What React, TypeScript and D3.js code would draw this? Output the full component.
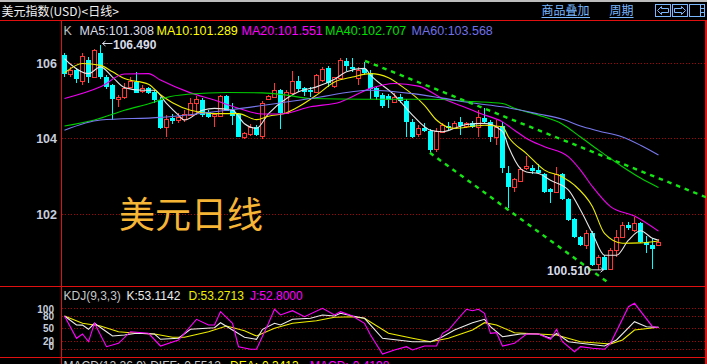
import React from "react";
import * as d3 from "d3";

// ---- daily candles (index 0..99) ----
const opens = [106.23,105.71,105.83,105.54,106.09,105.63,106.29,105.63,105.43,105.06,105.10,105.38,105.52,105.28,105.34,105.25,105.03,104.31,104.55,104.50,104.52,104.63,104.94,105.03,104.72,104.61,104.61,105.14,104.77,104.66,104.06,104.13,104.31,104.08,105.07,105.12,105.30,104.69,105.22,105.54,105.35,105.30,105.25,105.56,105.89,105.40,105.62,106.07,105.92,105.62,105.85,105.74,105.34,105.16,105.14,104.99,105.12,105.00,104.46,104.12,104.28,104.22,103.72,104.19,104.35,104.28,104.46,104.34,104.41,104.31,104.55,104.46,104.06,104.35,103.10,102.73,102.89,103.22,103.23,103.17,103.07,102.66,102.60,103.07,102.40,101.86,101.40,101.18,101.51,100.68,100.87,100.54,101.05,101.39,101.71,101.58,101.77,101.27,101.18,101.18];
const highs = [106.28,105.91,105.88,106.27,106.17,106.38,106.49,105.69,105.46,105.16,105.47,105.65,105.77,105.43,105.38,105.30,105.12,104.63,104.66,104.68,104.77,105.08,105.14,105.08,104.77,104.69,105.16,105.16,104.96,104.69,104.19,104.39,104.37,105.00,105.16,105.47,105.32,105.30,105.81,105.67,105.38,105.38,105.71,105.92,105.93,105.65,106.15,106.14,106.15,105.92,106.05,105.83,105.38,105.22,105.19,105.21,105.18,105.06,104.53,104.37,104.41,104.26,104.29,104.42,104.46,104.47,104.59,104.46,104.47,104.77,104.81,104.50,104.50,104.45,103.28,102.95,103.26,103.54,103.31,103.33,103.10,102.69,103.25,103.09,102.43,101.90,101.43,101.58,101.56,100.92,100.92,101.10,101.58,101.80,101.80,101.93,101.80,101.42,101.36,101.33];
const lows = [105.64,105.65,105.47,105.42,105.48,105.62,105.59,105.32,104.50,104.85,105.05,105.34,105.21,105.22,105.19,104.96,104.25,104.06,104.39,104.43,104.46,104.61,104.63,104.58,104.55,104.32,104.58,104.73,104.37,104.05,103.99,104.08,104.08,103.99,105.06,105.11,104.25,104.68,105.21,105.24,105.15,105.12,105.24,105.51,105.38,105.36,105.61,105.80,105.78,105.43,105.69,105.06,105.03,104.81,104.82,104.94,104.94,104.06,104.03,104.05,104.19,103.65,103.65,104.15,104.24,104.26,104.10,104.29,104.28,104.06,104.41,103.92,103.84,103.10,102.16,102.60,102.86,103.17,103.07,103.09,102.55,102.29,102.55,102.38,101.82,101.37,101.16,101.07,100.63,100.52,100.51,100.52,100.87,101.36,101.58,101.54,101.23,100.96,100.54,101.16];
const closes = [105.72,105.83,105.58,106.21,105.63,106.36,105.63,105.38,105.06,105.10,105.34,105.54,105.22,105.34,105.21,105.03,104.28,104.53,104.48,104.59,104.66,104.96,105.05,104.63,104.58,104.66,105.14,104.75,104.61,104.06,104.15,104.31,104.10,104.94,105.14,105.30,104.68,105.25,105.54,105.33,105.24,105.25,105.69,105.85,105.47,105.64,106.09,105.93,105.85,105.83,105.74,105.32,105.12,104.86,105.02,105.12,105.01,104.46,104.06,104.29,104.22,103.70,104.22,104.37,104.30,104.43,104.34,104.41,104.32,104.57,104.46,104.06,104.31,103.22,102.73,102.93,103.19,103.28,103.15,103.10,102.60,102.60,103.07,102.40,101.85,101.40,101.18,101.49,100.65,100.86,100.52,101.05,101.39,101.71,101.63,101.77,101.27,101.18,101.07,101.27];

// ---- moving averages: [candle index, value] ----
const ma5 = [[0,106.13],[1,105.98],[4,105.73],[6,105.91],[8,105.64],[10,105.36],[13,105.29],[15,105.29],[17,104.94],[19,104.63],[20,104.50],[23,104.76],[25,104.81],[28,104.76],[30,104.40],[32,104.28],[34,104.67],[37,105.07],[39,105.25],[42,105.38],[45,105.58],[47,105.78],[50,105.87],[51,105.69],[55,105.16],[58,104.63],[61,104.23],[63,104.19],[65,104.28],[67,104.38],[70,104.41],[73,104.20],[74,103.79],[76,103.21],[77,103.12],[79,103.08],[81,102.90],[84,102.64],[86,102.11],[88,101.49],[90,100.91],[92,100.91],[94,101.31],[96,101.56],[98,101.36],[99,101.31]];
const ma10 = [[0,105.75],[3,106.0],[6,105.95],[8,105.78],[10,105.60],[14,105.45],[16,105.17],[18,104.96],[21,104.76],[25,104.67],[29,104.67],[32,104.51],[34,104.60],[37,104.69],[39,104.85],[42,105.16],[45,105.51],[48,105.64],[51,105.73],[54,105.62],[56,105.42],[60,104.89],[62,104.50],[65,104.28],[70,104.36],[73,104.32],[74,104.05],[77,103.61],[80,103.17],[83,102.99],[85,102.77],[88,102.20],[90,101.49],[93,101.23],[96,101.24],[99,101.29]];
const ma20 = [[0,105.07],[6,105.38],[10,105.72],[14,105.73],[16,105.56],[21,105.22],[25,105.03],[29,104.81],[33,104.66],[36,104.66],[41,104.85],[46,104.98],[51,105.34],[55,105.47],[59,105.40],[63,105.07],[68,104.76],[69,104.69],[73,104.45],[75,104.23],[77,104.01],[80,103.79],[84,103.52],[86,103.17],[88,102.73],[91,102.20],[95,101.95],[99,101.55]];
const ma40 = [[0,104.34],[5,104.50],[10,104.76],[15,104.98],[17,105.10],[21,105.19],[27,105.23],[33,105.22],[37,105.16],[41,105.07],[50,105.05],[61,105.05],[68,104.99],[73,104.94],[75,104.81],[79,104.63],[83,104.39],[86,104.05],[89,103.70],[93,103.26],[96,102.96],[99,102.71]];
const ma60 = [[0,104.23],[6,104.50],[16,104.57],[28,104.78],[41,105.07],[51,105.29],[58,105.20],[63,105.08],[68,104.95],[73,104.85],[79,104.66],[83,104.52],[86,104.34],[89,104.21],[93,104.05],[96,103.83],[99,103.57]];

// ---- hand-drawn trend lines: [candle index, value] ----
const trendUpper = [[50.1,106.07],[107.1,102.44]];
const trendLower = [[60.9,103.63],[90.4,100.21]];

// ---- KDJ(9,3,3) ----
const kdjK = [[0,80.6],[2,58.8],[3,58.5],[4,48.4],[5,63.0],[7,42.6],[8,32.2],[10,34.6],[12,38.7],[15,37.0],[16,24.2],[19,26.6],[21,48.4],[25,52.3],[26,64.4],[28,46.7],[30,29.1],[32,24.2],[33,48.4],[35,63.0],[36,58.8],[38,72.6],[41,75.1],[43,83.1],[45,80.6],[46,87.2],[48,80.6],[50,75.1],[53,26.6],[58,18.4],[61,18.4],[63,30.5],[65,46.7],[68,64.4],[70,72.6],[71,54.7],[73,30.5],[76,37.0],[79,37.0],[81,26.6],[82,38.7],[84,18.4],[86,14.5],[90,8.0],[92,22.5],[95,66.8],[97,54.7],[99,53.1]];
const kdjD = [[0,80.6],[3,63.0],[6,56.4],[9,42.6],[12,38.7],[15,37.0],[18,29.1],[20,29.1],[24,42.6],[27,56.4],[30,45.0],[32,32.2],[35,50.8],[38,63.0],[42,69.2],[45,77.5],[48,78.9],[50,75.1],[54,38.7],[58,26.6],[61,18.4],[64,26.6],[68,46.7],[70,64.4],[72,58.8],[75,40.2],[79,37.0],[82,34.6],[86,18.4],[91,12.8],[93,22.5],[95,46.7],[99,53.3]];
const kdjJ = [[0,80.6],[2,26.6],[3,37.0],[4,18.4],[5,63.0],[7,6.3],[9,14.5],[11,42.6],[14,38.7],[16,8.0],[19,22.5],[22,72.6],[24,58.8],[25,58.8],[26,91.0],[28,63.0],[29,6.3],[31,0],[32,0],[34,63.0],[35,96.9],[36,83.1],[38,93.5],[40,78.9],[43,99.3],[45,83.1],[46,91.0],[48,80.6],[50,63.0],[51,34.6],[53,-11.4],[55,-1.7],[57,6.3],[58,-1.7],[60,8.0],[62,8.0],[63,38.7],[64,46.7],[66,80.6],[67,96.9],[68,93.5],[69,96.9],[70,87.2],[71,38.7],[72,40.2],[73,8.0],[75,14.5],[77,37.0],[79,37.0],[81,24.2],[82,48.4],[83,18.4],[85,-5.8],[86,6.3],[88,2.4],[90,0],[91,14.5],[94,103.1],[95,111.4],[98,54.7],[99,52.8]];

const priceTicks = [106, 104, 102];
const kdjTicks = [100, 80, 50, 20, 0];
const maNames = ["MA5", "MA10", "MA20", "MA40", "MA60"];
const maLast = ["101.308", "101.289", "101.551", "102.707", "103.568"];
const kdjNames = ["K", "D", "J"];
const kdjLast = ["53.1142", "53.2713", "52.8000"];
const highLabel = "106.490";
const lowLabel = "100.510";

const RED = "#ff3434";
const CYAN = "#00ffff";
const FRAME = "#e01010";
const GRID = "#b00000";
const MA_COLORS = ["#e6e6e6", "#eeee00", "#f000f0", "#00d000", "#7878ee"];
const LEG_COLORS = ["#d8dce8", "#ffff00", "#ff00ff", "#00e000", "#7070e8"];
const KDJ_COLORS = ["#ececec", "#eeee00", "#ff00ff"];
const UI_BLUE = "#7ab8ff";
const LATIN = "'Liberation Sans', Arial, sans-serif";
const CJK = "'Noto Sans CJK SC', 'Noto Sans', sans-serif";

export default function App() {
  const xs = d3.scaleLinear().domain([0, 99]).range([64.5, 658.5]);
  const ys = d3.scaleLinear().domain([102, 106]).range([214.2, 63.5]);
  const yk = d3.scaleLinear().domain([0, 100]).range([349.3, 308]);

  const maLine = d3.line<number[]>().x(d => xs(d[0])).y(d => ys(d[1])).curve(d3.curveMonotoneX);
  const trendLine = d3.line<number[]>().x(d => xs(d[0])).y(d => ys(d[1]));
  const kLine = d3.line<number[]>().x(d => xs(d[0])).y(d => yk(d[1]));

  const mas = [ma5, ma10, ma20, ma40, ma60];
  const kdjs = [kdjK, kdjD, kdjJ];

  const legendX = [79.5, 156.5, 241.5, 325, 411.5];
  const kdjX = [126.5, 188.5, 250];

  const hiIdx = highs.indexOf(d3.max(highs) as number);
  const loIdx = lows.indexOf(d3.min(lows) as number);
  const hiX = xs(hiIdx), hiY = ys(highs[hiIdx]);
  const loX = xs(loIdx), loY = ys(lows[loIdx]);

  return (
    <svg width={707} height={364} style={{ position: "fixed", left: 0, top: 0, display: "block" }}>
      <defs>
        <clipPath id="mainClip"><rect x={62} y={21} width={644} height={265} /></clipPath>
        <clipPath id="kdjClip"><rect x={62} y={287} width={644} height={70} /></clipPath>
      </defs>
      <rect x={0} y={0} width={707} height={364} fill="#000" />
      <rect x={0} y={0} width={707} height={2} fill="#bcbcbc" />

      {/* header */}
      <text x={1.5} y={15.5} fill="#f0f0f0" fontFamily={CJK} fontSize={12}>美元指数(USD)&lt;日线&gt;</text>
      <text x={541.5} y={15} fill={UI_BLUE} fontFamily={CJK} fontSize={12}>商品叠加</text>
      <line x1={541.5} x2={590} y1={17.5} y2={17.5} stroke={UI_BLUE} />
      <text x={609.5} y={15} fill={UI_BLUE} fontFamily={CJK} fontSize={12}>周期</text>
      <line x1={609.5} x2={633.5} y1={17.5} y2={17.5} stroke={UI_BLUE} />
      <g fill="none" stroke={UI_BLUE} strokeWidth={1} shapeRendering="crispEdges">
        <rect x={655.5} y={4.5} width={15} height={12} />
        <rect x={672.5} y={4.5} width={15} height={12} />
        <rect x={689.5} y={4.5} width={15} height={12} />
        <line x1={700.5} x2={700.5} y1={4.5} y2={16.5} />
        <line x1={701} x2={704} y1={8.5} y2={8.5} />
        <line x1={701} x2={704} y1={12.5} y2={12.5} />
      </g>
      <path d="M657.5,10.5 L661.5,6.5 L661.5,8.5 L668.5,8.5 L668.5,12.5 L661.5,12.5 L661.5,14.5 Z" fill="none" stroke={UI_BLUE} />
      <path d="M685.5,10.5 L681.5,6.5 L681.5,8.5 L674.5,8.5 L674.5,12.5 L681.5,12.5 L681.5,14.5 Z" fill="none" stroke={UI_BLUE} />

      {/* frame */}
      <g stroke={FRAME} strokeWidth={1.2} shapeRendering="crispEdges">
        <line x1={0} x2={707} y1={20.5} y2={20.5} />
        <line x1={0} x2={707} y1={286.5} y2={286.5} />
        <line x1={0} x2={707} y1={357.5} y2={357.5} />
        <line x1={61.5} x2={61.5} y1={20.5} y2={364} />
        <line x1={706} x2={706} y1={20.5} y2={364} />
      </g>

      {/* price grid + ticks */}
      {priceTicks.map(t => {
        const yy = Math.floor(ys(t)) + 0.5;
        return (
          <g key={t}>
            <line x1={62} x2={706} y1={yy} y2={yy} stroke={GRID} strokeDasharray="1 2" shapeRendering="crispEdges" />
            <text x={57} y={yy + 4.5} textAnchor="end" fill="#c6cede" fontFamily={LATIN} fontWeight="bold" fontSize={12.5}>{t}</text>
          </g>
        );
      })}

      {/* KDJ grid + ticks */}
      {kdjTicks.map((t, i) => {
        const yy = Math.floor(yk(t)) + 0.5;
        const labelY = [312.8, 320, 331.5, 345.2, 350][i];
        return (
          <g key={t}>
            <line x1={62} x2={706} y1={yy} y2={yy} stroke={GRID} strokeDasharray="1 2" shapeRendering="crispEdges" />
            <text x={54} y={labelY} textAnchor="end" fill="#c6cede" fontFamily={LATIN} fontWeight="bold" fontSize={10}>{t}</text>
          </g>
        );
      })}

      {/* big caption */}
      <text x={119} y={227.5} fill="#f6b535" fontFamily={CJK} fontSize={36}>美元日线</text>

      {/* candles */}
      <g clipPath="url(#mainClip)" shapeRendering="crispEdges">
        {closes.map((c, i) => {
          const o = opens[i];
          const cx = Math.round(xs(i) - 0.5) + 0.5;
          const up = c >= o;
          const col = up ? RED : CYAN;
          const top = ys(Math.max(o, c));
          const bot = ys(Math.min(o, c));
          return (
            <g key={i}>
              <line x1={cx} x2={cx} y1={ys(highs[i])} y2={ys(lows[i])} stroke={col} strokeWidth={1} />
              {up ? (
                <rect x={cx - 2} y={Math.round(top) + 0.5} width={4} height={Math.max(1, Math.round(bot) - Math.round(top))} fill="#000" stroke={col} strokeWidth={1} />
              ) : (
                <rect x={cx - 2.5} y={top} width={5} height={Math.max(1, bot - top)} fill={col} />
              )}
            </g>
          );
        })}
      </g>

      {/* moving averages */}
      <g clipPath="url(#mainClip)" fill="none">
        {mas.map((m, i) => (
          <path key={i} d={maLine(m) as string} stroke={MA_COLORS[i]} strokeWidth={1.1} />
        ))}
        <path d={trendLine(trendUpper) as string} stroke="#14e614" strokeWidth={2.4} strokeDasharray="4.5 4.8" />
        <path d={trendLine(trendLower) as string} stroke="#14e614" strokeWidth={2.4} strokeDasharray="4.5 4.8" />
      </g>

      {/* extreme labels */}
      <g stroke="#d8dce8" strokeWidth={1} fill="none">
        <line x1={hiX + 2} x2={hiX + 12} y1={43.5} y2={43.5} />
        <path d={`M${hiX + 5},41 L${hiX + 2},43.5 L${hiX + 5},46`} />
        <line x1={loX - 13} x2={loX - 1} y1={loY - 0.5} y2={loY - 0.5} />
        <path d={`M${loX - 4},${loY - 3} L${loX - 1},${loY - 0.5} L${loX - 4},${loY + 2}`} />
      </g>
      <text x={hiX + 12.5} y={49.3} fill="#d8dce8" fontFamily={LATIN} fontWeight="bold" fontSize={12}>{highLabel}</text>
      <text x={loX - 14} y={275.3} textAnchor="end" fill="#d8dce8" fontFamily={LATIN} fontWeight="bold" fontSize={12}>{lowLabel}</text>

      {/* MA legend */}
      <text x={63.5} y={35} fill="#c0c0c0" fontFamily={LATIN} fontSize={12.5}>K</text>
      {maNames.map((n, i) => (
        <text key={n} x={legendX[i]} y={35} fill={LEG_COLORS[i]} fontFamily={LATIN} fontSize={12.5}>{n}:{maLast[i]}</text>
      ))}

      {/* KDJ */}
      <g clipPath="url(#kdjClip)" fill="none">
        {[kdjs[1], kdjs[0], kdjs[2]].map((k, j) => {
          const ci = [1, 0, 2][j];
          return <path key={ci} d={kLine(k) as string} stroke={KDJ_COLORS[ci]} strokeWidth={1.1} />;
        })}
      </g>
      <text x={63.5} y={300} fill="#c8c8c8" fontFamily={LATIN} fontSize={12}>KDJ(9,3,3)</text>
      {kdjNames.map((n, i) => (
        <text key={n} x={kdjX[i]} y={300} fill={KDJ_COLORS[i]} fontFamily={LATIN} fontSize={12}>{n}:{kdjLast[i]}</text>
      ))}

      {/* MACD title (cut off at bottom) */}
      <text x={63.5} y={370} fill="#c8c8c8" fontFamily={LATIN} fontSize={12}>MACD(12,26,9) DIFF:-0.5512</text>
      <text x={230} y={370} fill="#ffff00" fontFamily={LATIN} fontSize={12}>DEA:-0.3413</text>
      <text x={310} y={370} fill="#ff00ff" fontFamily={LATIN} fontSize={12}>MACD:-0.4198</text>
    </svg>
  );
}
